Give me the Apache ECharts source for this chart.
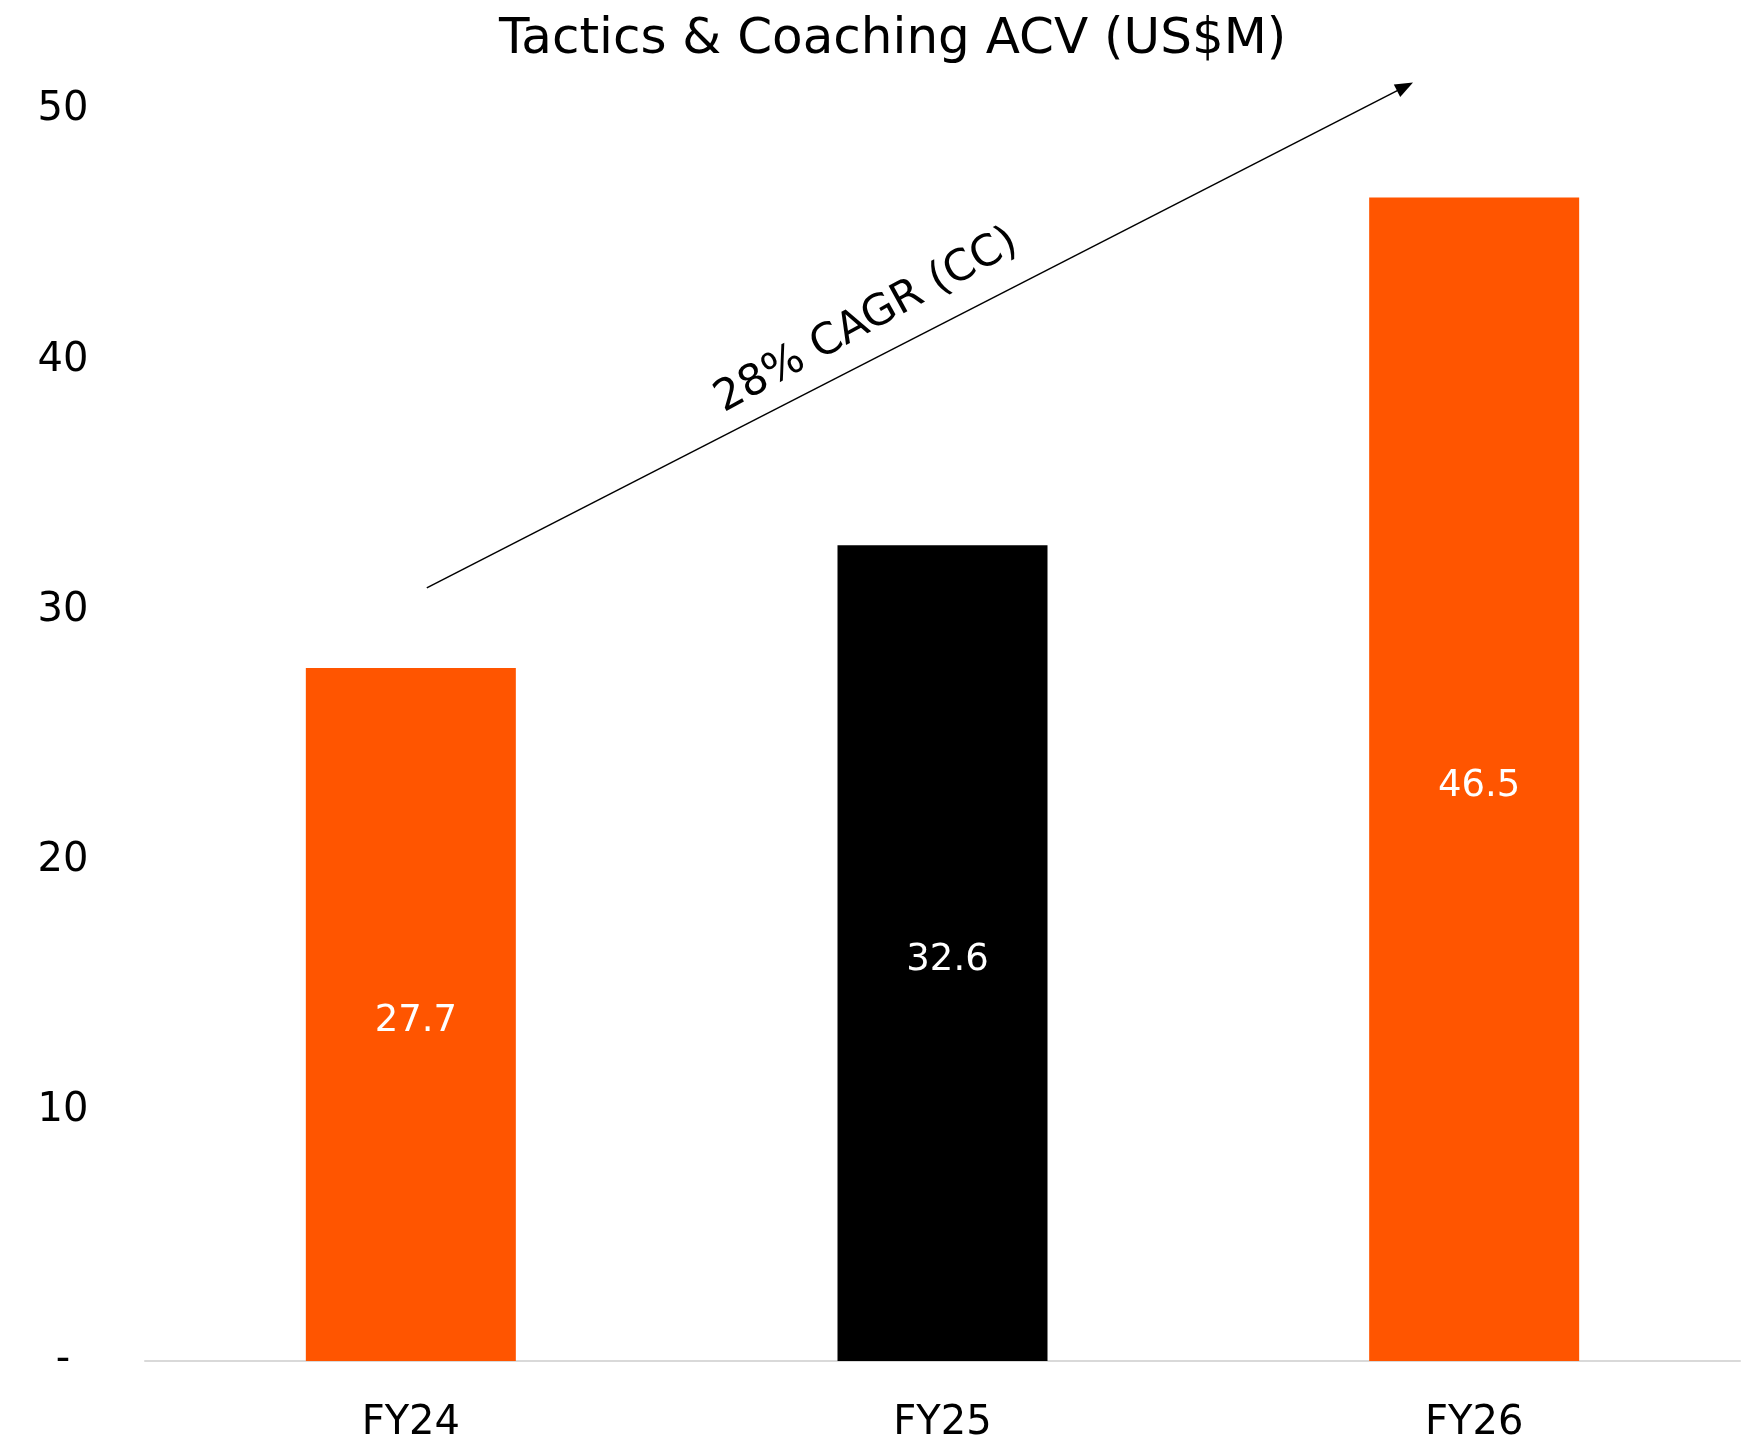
<!DOCTYPE html>
<html>
<head>
<meta charset="utf-8">
<script src="https://cdn.jsdelivr.net/npm/echarts@6/dist/echarts.min.js"></script>
<style>
  html, body { margin: 0; padding: 0; background: #fff; }
  #chart { width: 1749px; height: 1444px; }
</style>
</head>
<body>
<div id="chart"></div>
<script>
// data
const categories = ['FY24', 'FY25', 'FY26'];
const acvValues = [27.7, 32.6, 46.5];
const barColors = ['#FF5500', '#000000', '#FF5500'];
const cagrText = '28% CAGR (CC)';
// arrow ends in data units: [category position, US$M]
const arrowStart = [0.03, 30.9];
const arrowEnd = [1.885, 51.1];

const FONT = '"DejaVu Sans", sans-serif';

let chart = echarts.init(document.getElementById('chart'));

let option = {
    animation: false,
    backgroundColor: '#fff',
    title: {
        text: 'Tactics & Coaching ACV (US$M)',
        left: 494,
        top: 10,
        textStyle: {fontFamily: FONT, fontSize: 50, fontWeight: 'normal', color: '#000'}
    },
    grid: {left: 145, right: 9, top: 110, bottom: 79, containLabel: false},
    xAxis: [{
        type: 'category',
        data: categories,
        axisLine: {lineStyle: {color: '#d9d9d9', width: 2}},
        axisTick: {show: false},
        axisLabel: {fontFamily: FONT, fontSize: 40, color: '#000', margin: 63, verticalAlign: 'middle'}
    }, {
        // hidden helper axis so the arrow can sit between categories
        type: 'value', min: -0.5, max: 2.5, show: false
    }],
    yAxis: {
        type: 'value',
        min: 0,
        max: 50,
        interval: 10,
        splitLine: {show: false},
        axisLine: {show: false},
        axisTick: {show: false},
        axisLabel: {
            fontFamily: FONT, fontSize: 40, color: '#000', margin: 82, align: 'center',
            padding: [13, 0, 0, 0],
            formatter: v => v === 0 ? '-' : String(v)
        }
    },
    series: [{
        type: 'bar',
        barWidth: 210,
        data: acvValues.map((v, i) => ({value: v, itemStyle: {color: barColors[i]}})),
        label: {
            show: true,
            position: 'inside',
            offset: [5, 7],
            color: '#fff',
            fontFamily: FONT,
            fontSize: 37,
            formatter: p => p.value.toFixed(1)
        }
    }]
};
chart.setOption(option);

// CAGR arrow, positioned through the axes
function px(pt){
    return [
        chart.convertToPixel({xAxisIndex: 1}, pt[0]),
        chart.convertToPixel({yAxisIndex: 0}, pt[1])
    ];
}
let a = px(arrowStart), b = px(arrowEnd);
let dx = b[0] - a[0], dy = b[1] - a[1];
let len = Math.sqrt(dx*dx + dy*dy);
let ux = dx/len, uy = dy/len;
let nx = uy, ny = -ux; // normal pointing up-left
let head = 18, half = 7;
let t = 0.463;
let tx = a[0] + dx*t + nx*37, ty = a[1] + dy*t + ny*37;
let ang = Math.atan2(-dy, dx);

chart.setOption({
    graphic: [{
        type: 'line',
        shape: {x1: a[0], y1: a[1], x2: b[0] - ux*head*0.8, y2: b[1] - uy*head*0.8},
        style: {stroke: '#000', lineWidth: 1.5}
    }, {
        type: 'polygon',
        shape: {points: [
            [b[0], b[1]],
            [b[0] - ux*head + nx*half, b[1] - uy*head + ny*half],
            [b[0] - ux*head - nx*half, b[1] - uy*head - ny*half]
        ]},
        style: {fill: '#000'}
    }, {
        type: 'text',
        x: tx, y: ty,
        rotation: ang + 0.03,
        style: {
            text: cagrText, x: 0, y: 0,
            textAlign: 'center', textVerticalAlign: 'middle',
            font: '43px ' + FONT, fill: '#000'
        }
    }]
});
</script>
</body>
</html>
